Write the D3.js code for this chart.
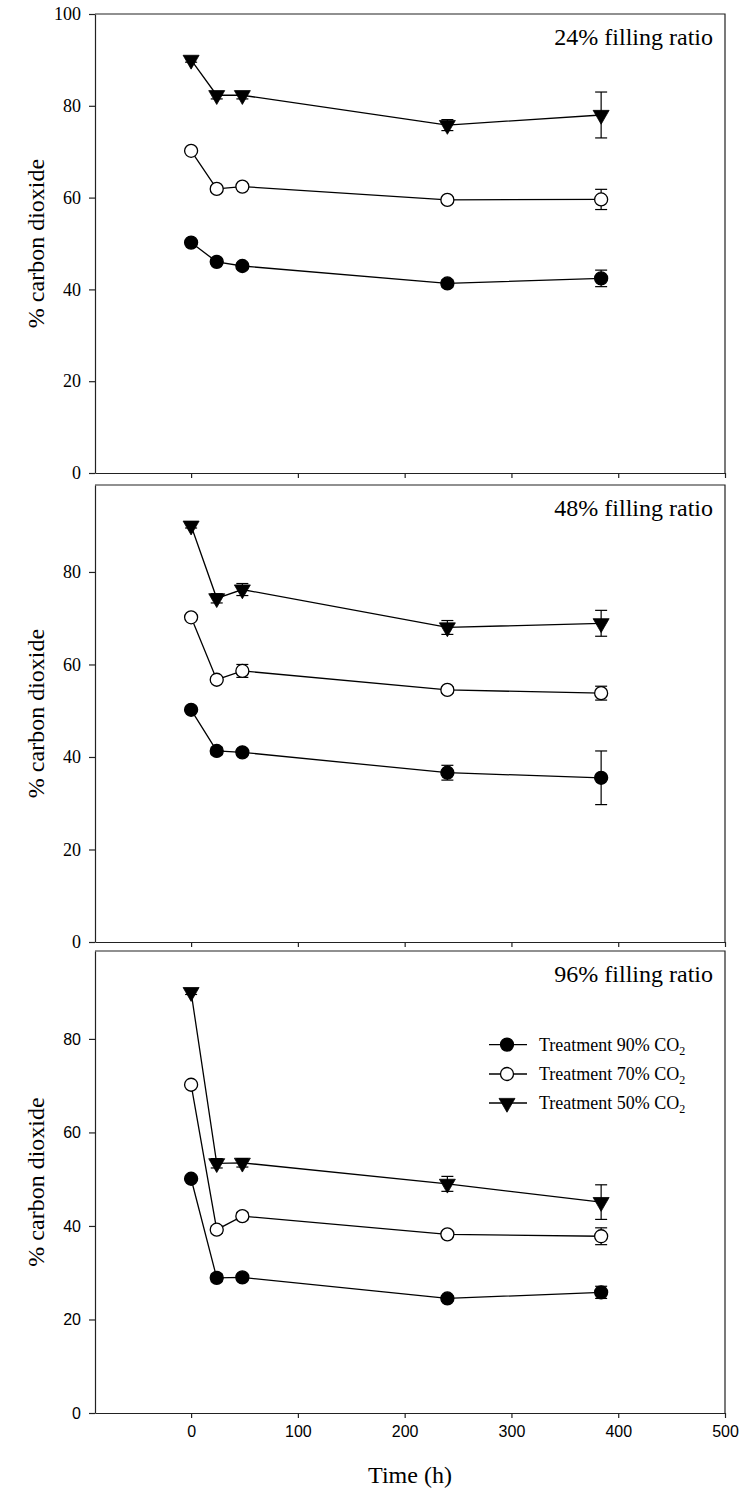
<!DOCTYPE html>
<html>
<head>
<meta charset="utf-8">
<script src="https://cdn.jsdelivr.net/npm/d3@7"></script>
<style>
  html, body { margin: 0; padding: 0; background: #fff; }
  svg { display: block; }
</style>
</head>
<body>
<svg id="chart" width="739" height="1495"></svg>
<script>
// ---------------- data ----------------
const times = [0, 24, 48, 240, 384];
const panelLabels = ["24% filling ratio", "48% filling ratio", "96% filling ratio"];
const seriesLabels = ["Treatment 90% CO2", "Treatment 70% CO2", "Treatment 50% CO2"];
const xTicks = [0, 100, 200, 300, 400, 500];
const yTicksTop = [0, 20, 40, 60, 80, 100];
const yTicksOther = [0, 20, 40, 60, 80];
const yTitle = "% carbon dioxide";
const xTitle = "Time (h)";

// 24% filling ratio
const filled24 = [50.2, 46.0, 45.1, 41.3, 42.4];
const filled24Err = [0.5, 0.6, 0.6, 0.8, 1.8];
const open24 = [70.2, 61.9, 62.4, 59.5, 59.6];
const open24Err = [0.5, 0.6, 0.6, 0.6, 2.2];
const tri24 = [90.0, 82.3, 82.3, 75.8, 78.0];
const tri24Err = [0.5, 0.8, 0.8, 1.2, 5.0];

// 48% filling ratio
const filled48 = [50.2, 41.3, 41.0, 36.6, 35.5];
const filled48Err = [0.5, 0.8, 0.7, 1.6, 5.8];
const open48 = [70.2, 56.7, 58.6, 54.5, 53.8];
const open48Err = [0.5, 0.6, 1.4, 0.7, 1.5];
const tri48 = [90.0, 74.3, 76.2, 68.0, 68.9];
const tri48Err = [0.5, 1.0, 1.3, 1.5, 2.8];

// 96% filling ratio
const filled96 = [50.1, 28.9, 29.0, 24.5, 25.8];
const filled96Err = [0.5, 0.8, 0.7, 0.6, 1.3];
const open96 = [70.2, 39.2, 42.1, 38.2, 37.8];
const open96Err = [0.5, 0.8, 0.8, 0.7, 1.8];
const tri96 = [90.0, 53.4, 53.5, 49.0, 45.1];
const tri96Err = [0.5, 1.0, 0.9, 1.6, 3.7];

// ---------------- layout ----------------
const xDomain = [-90, 500];
const left = 95, right = 725;
const panelBoxes = [
  { top: 14, bottom: 473, yMax: 100, ticks: yTicksTop, font: "'Liberation Serif', 'Times New Roman', serif", fs: 18, xLabels: false },
  { top: 485, bottom: 942, yMax: 98.8, ticks: yTicksOther, font: "'Liberation Serif', 'Times New Roman', serif", fs: 18, xLabels: false },
  { top: 951, bottom: 1413, yMax: 98.8, ticks: yTicksOther, font: "'Liberation Sans', Arial, sans-serif", fs: 16, xLabels: true }
];
const panelData = [
  [[filled24, filled24Err], [open24, open24Err], [tri24, tri24Err]],
  [[filled48, filled48Err], [open48, open48Err], [tri48, tri48Err]],
  [[filled96, filled96Err], [open96, open96Err], [tri96, tri96Err]]
];
const serif = "'Liberation Serif', 'Times New Roman', serif";
const frameColor = "#222";

const svg = d3.select("#chart");
const x = d3.scaleLinear().domain(xDomain).range([left, right]);

const circleSym = d3.symbol().type(d3.symbolCircle).size(Math.PI * 6.5 * 6.5);
const triSym = d3.symbol().type(d3.symbolTriangle).size(Math.sqrt(3) / 4 * 16 * 16);

function drawMarker(g, type, cx, cy) {
  if (type === 2) {
    g.append("path").attr("d", triSym())
      .attr("transform", `translate(${cx},${cy}) rotate(180)`)
      .attr("fill", "#000").attr("stroke", "#000").attr("stroke-width", 0.8);
  } else {
    g.append("path").attr("d", circleSym())
      .attr("transform", `translate(${cx},${cy})`)
      .attr("fill", type === 0 ? "#000" : "#fff")
      .attr("stroke", "#000").attr("stroke-width", 1.3);
  }
}

panelBoxes.forEach((pb, pi) => {
  const y = d3.scaleLinear().domain([0, pb.yMax]).range([pb.bottom, pb.top]);
  const g = svg.append("g");

  // frame top/right
  g.append("path")
    .attr("d", `M${x(xDomain[0])},${y(pb.yMax)}H${x(xDomain[1])}V${y(0)}`)
    .attr("fill", "none").attr("stroke", frameColor).attr("stroke-width", 1.2);

  // x axis
  const xAxis = d3.axisBottom(x).tickValues(xTicks).tickSize(5).tickSizeOuter(0).tickPadding(8)
    .tickFormat(pb.xLabels ? d3.format("d") : () => "");
  const gx = g.append("g").attr("transform", `translate(0,${pb.bottom})`).call(xAxis);
  gx.select(".domain").attr("stroke", frameColor).attr("stroke-width", 1.2);
  gx.selectAll(".tick line").attr("stroke", frameColor).attr("stroke-width", 1.2);
  gx.selectAll(".tick text").attr("font-family", pb.font).attr("font-size", pb.fs).attr("fill", "#000");

  // y axis
  const yAxis = d3.axisLeft(y).tickValues(pb.ticks).tickSize(6).tickSizeOuter(0).tickPadding(8)
    .tickFormat(d3.format("d"));
  const gy = g.append("g").attr("transform", `translate(${left},0)`).call(yAxis);
  gy.select(".domain").attr("stroke", frameColor).attr("stroke-width", 1.2);
  gy.selectAll(".tick line").attr("stroke", frameColor).attr("stroke-width", 1.2);
  gy.selectAll(".tick text").attr("font-family", pb.font).attr("font-size", pb.fs).attr("fill", "#000");

  // y title
  g.append("text")
    .attr("transform", `translate(44,${(pb.top + pb.bottom) / 2}) rotate(-90)`)
    .attr("text-anchor", "middle")
    .attr("font-family", serif).attr("font-size", 24)
    .text(yTitle);

  // panel label
  g.append("text")
    .attr("x", 713).attr("y", pb.top + 31)
    .attr("text-anchor", "end")
    .attr("font-family", serif).attr("font-size", 24)
    .text(panelLabels[pi]);

  const line = d3.line().x((d, i) => x(times[i])).y(d => y(d));

  const series = panelData[pi];
  // lines
  series.forEach(([vals]) => {
    g.append("path").attr("d", line(vals))
      .attr("fill", "none").attr("stroke", "#000").attr("stroke-width", 1.3);
  });
  // error bars
  series.forEach(([vals, errs]) => {
    vals.forEach((v, i) => {
      const cx = x(times[i]);
      const y1 = y(v + errs[i]), y2 = y(v - errs[i]);
      g.append("line").attr("x1", cx).attr("x2", cx).attr("y1", y1).attr("y2", y2)
        .attr("stroke", "#000").attr("stroke-width", 1.2);
      [y1, y2].forEach(yy => g.append("line")
        .attr("x1", cx - 6).attr("x2", cx + 6).attr("y1", yy).attr("y2", yy)
        .attr("stroke", "#000").attr("stroke-width", 1.2));
    });
  });
  // markers
  series.forEach(([vals], si) => {
    vals.forEach((v, i) => drawMarker(g, si, x(times[i]), y(v)));
  });

  // legend in last panel
  if (pi === 2) {
    const legY = [1044.6, 1074, 1103];
    seriesLabels.forEach((lab, si) => {
      const ly = legY[si];
      g.append("line").attr("x1", 489).attr("x2", 527).attr("y1", ly).attr("y2", ly)
        .attr("stroke", "#000").attr("stroke-width", 1.3);
      drawMarker(g, si, 507, ly);
      const t = g.append("text").attr("x", 539).attr("y", ly + 6)
        .attr("font-family", serif).attr("font-size", 18);
      t.append("tspan").text(lab.slice(0, -1));
      t.append("tspan").attr("font-size", 12).attr("dy", 4).text(lab.slice(-1));
    });
  }
});

// x title
svg.append("text")
  .attr("x", (left + right) / 2).attr("y", 1483)
  .attr("text-anchor", "middle")
  .attr("font-family", serif).attr("font-size", 24)
  .text(xTitle);
</script>
</body>
</html>
